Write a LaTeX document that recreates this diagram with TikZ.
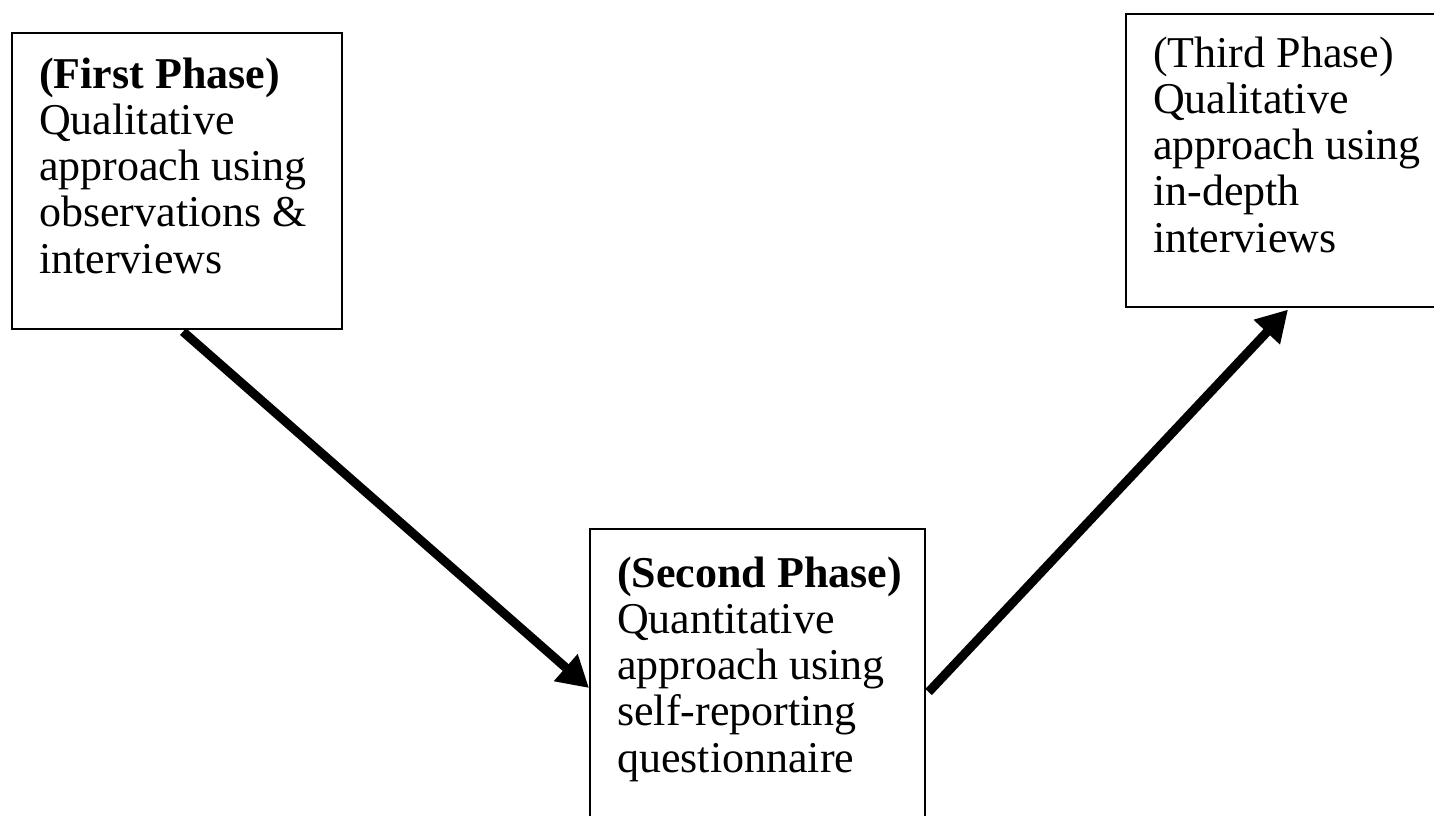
\documentclass[tikz,border=0pt]{standalone}
\usepackage{fontspec}
\setmainfont{Liberation Serif}
\usetikzlibrary{arrows.meta,calc}
\tikzset{
  phasebox/.style={draw=black, line width=1.6pt, rectangle, inner sep=0pt, anchor=north west},
  phasetext/.style={inner sep=0pt, anchor=base west, font=\fontsize{44}{46.3}\selectfont},
  bigarrow/.style={line width=9pt, -{Triangle[length=31pt,width=34pt]}}
}
\newcommand{\phaselines}[1]{\parbox[t]{330pt}{\raggedright #1}}
\begin{document}
\begin{tikzpicture}[x=1pt,y=-1pt]
\useasboundingbox (0,0) rectangle (1434,815);
\fill[white] (0,0) rectangle (1434,815);
\begin{scope}
\clip (0,0) rectangle (1434,815);
\node[phasebox, minimum width=330pt, minimum height=296pt] (b1) at (11,32) {};
\node[phasebox, minimum width=335pt, minimum height=320pt] (b2) at (589,528) {};
\node[phasebox, minimum width=340pt, minimum height=293pt] (b3) at (1125,13) {};
\node[phasetext] (t1) at (39,88) {\phaselines{\textbf{(First Phase)}\\Qualitative\\approach using\\observations \&\\interviews}};
\node[phasetext] (t2) at (617,587) {\phaselines{\textbf{(Second Phase)}\\Quantitative\\approach using\\self-reporting\\questionnaire}};
\node[phasetext] (t3) at (1153,67) {\phaselines{(Third Phase)\\Qualitative\\approach using\\in-depth\\interviews}};
\end{scope}
\draw[bigarrow] ([xshift=172pt,yshift=-2pt]b1.south west) -- ([yshift=-160pt]b2.north west);
\draw[bigarrow] ([xshift=3pt,yshift=-164pt]b2.north east) -- ([xshift=163pt,yshift=-2pt]b3.south west);
\end{tikzpicture}
\end{document}
